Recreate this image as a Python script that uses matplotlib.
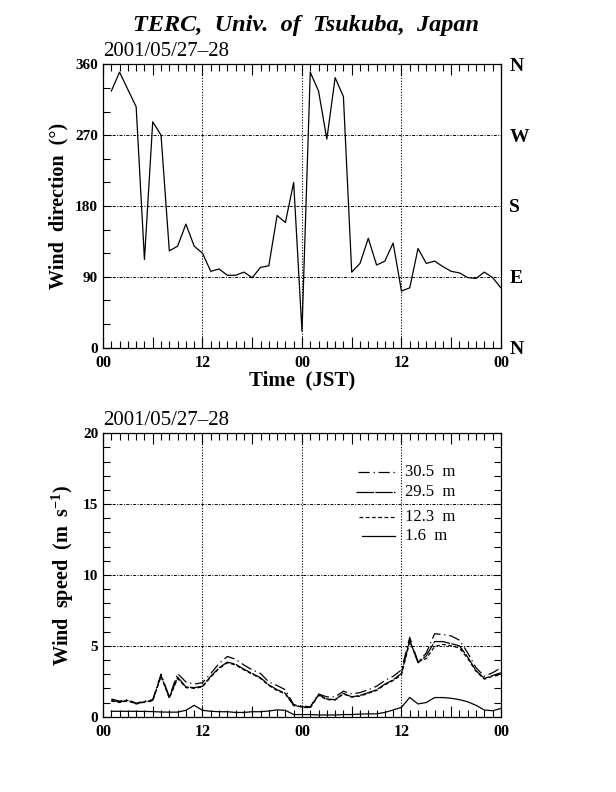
import numpy as np
import matplotlib
matplotlib.use("Agg")
import matplotlib.pyplot as plt
from matplotlib.ticker import MultipleLocator, FixedLocator

plt.rcParams['font.family'] = ['Liberation Serif', 'DejaVu Serif']
plt.rcParams['mathtext.fontset'] = 'custom'
plt.rcParams['mathtext.rm'] = 'Liberation Serif'
plt.rcParams['mathtext.bf'] = 'Liberation Serif:bold'

# ==============================
# DATA (hourly, JST, 2001/05/27-28)
# ==============================
hours = np.arange(1, 49)

wind_dir = [326, 350, 328, 306, 112, 287, 270, 123, 129, 157, 129, 120,
            97, 100, 92, 92, 96, 89, 102, 104, 168, 159, 210, 21,
            350, 326, 265, 343, 319, 96, 107, 139, 105, 110, 133, 72,
            76, 126, 107, 110, 103, 97, 95, 89, 88, 96, 89, 76]

ws_305 = [1.25, 1.1, 1.2, 0.95, 1.1, 1.2, 3.0, 1.4, 3.05, 2.45, 2.3, 2.4,
          3.05, 3.75, 4.25, 4.05, 3.65, 3.3, 3.05, 2.45, 2.2, 1.9, 0.85, 0.75,
          0.7, 1.6, 1.4, 1.4, 1.8, 1.6, 1.7, 1.9, 2.15, 2.55, 2.85, 3.3,
          5.6, 3.85, 4.5, 5.85, 5.8, 5.7, 5.4, 4.5, 3.45, 2.85, 3.1, 3.45]

ws_295 = [1.15, 1.05, 1.15, 0.92, 1.05, 1.15, 2.9, 1.35, 2.8, 2.1, 2.05, 2.15,
          2.85, 3.45, 3.85, 3.7, 3.35, 3.05, 2.75, 2.25, 1.9, 1.65, 0.8, 0.7,
          0.65, 1.55, 1.25, 1.2, 1.65, 1.4, 1.5, 1.7, 1.9, 2.3, 2.6, 3.05,
          5.4, 3.8, 4.3, 5.3, 5.3, 5.15, 5.0, 4.2, 3.25, 2.7, 2.9, 3.1]

ws_123 = [1.1, 1.0, 1.12, 0.9, 1.02, 1.12, 2.85, 1.3, 2.7, 2.05, 2.0, 2.1,
          2.8, 3.4, 3.8, 3.65, 3.3, 3.0, 2.7, 2.2, 1.85, 1.6, 0.78, 0.68,
          0.62, 1.5, 1.2, 1.18, 1.6, 1.38, 1.45, 1.65, 1.85, 2.25, 2.55, 2.95,
          5.3, 3.9, 4.1, 4.95, 5.1, 5.0, 4.85, 4.1, 3.2, 2.65, 2.85, 2.95]

ws_016 = [0.38, 0.38, 0.38, 0.38, 0.37, 0.36, 0.33, 0.32, 0.32, 0.45, 0.8, 0.45,
          0.38, 0.35, 0.35, 0.3, 0.3, 0.35, 0.35, 0.4, 0.48, 0.45, 0.15, 0.15,
          0.15, 0.12, 0.12, 0.12, 0.15, 0.15, 0.18, 0.2, 0.2, 0.3, 0.47, 0.66,
          1.36, 0.9, 1.0, 1.35, 1.35, 1.3, 1.2, 1.05, 0.8, 0.47, 0.42, 0.58]

x_ticks = [0, 12, 24, 36, 48]
x_labels = ["00", "12", "00", "12", "00"]
dir_ticks = [0, 90, 180, 270, 360]
dir_labels = ["0", "90", "180", "270", "360"]
compass = ["N", "E", "S", "W", "N"]
ws_ticks = [0, 5, 10, 15, 20]

heights = ["30.5  m", "29.5  m", "12.3  m", "1.6  m"]
styles = [(0, (9, 3, 1, 3)), (0, (14, 1)), (0, (3, 2)), '-']

# ==============================
# FIGURE
# ==============================
fig = plt.figure(figsize=(6.16, 7.92), dpi=100)
ax1 = fig.add_axes([0.1672, 0.561, 0.646, 0.3578])
ax2 = fig.add_axes([0.1672, 0.0951, 0.646, 0.3578])

grid_h = dict(color='black', lw=0.7, ls=(0, (1, 1.5, 3, 1.5)))
grid_v = dict(color='black', lw=0.8, ls=(0, (1, 1.5)))


def style_axis(ax, ymax, ymajor, yminor):
    ax.set_xlim(0, 48)
    ax.set_ylim(0, ymax)
    ax.xaxis.set_major_locator(MultipleLocator(6))
    ax.xaxis.set_minor_locator(MultipleLocator(1))
    ax.yaxis.set_major_locator(MultipleLocator(ymajor))
    ax.yaxis.set_minor_locator(MultipleLocator(yminor))
    ax.tick_params(which='both', direction='in', top=True, right=True, width=0.8)
    ax.tick_params(which='major', length=8)
    ax.tick_params(which='minor', length=5)
    ax.tick_params(axis='y', which='major', length=6)
    ax.tick_params(axis='y', which='minor', length=5)
    ax.tick_params(axis='x', pad=5)
    ax.set_xticks(list(range(0, 49, 6)))
    ax.set_xticklabels([x_labels[x_ticks.index(t)] if t in x_ticks else "" for t in range(0, 49, 6)],
                       fontweight='bold', fontsize=11.5)
    for s in ax.spines.values():
        s.set_linewidth(0.9)
    for t in x_ticks[1:-1]:
        ax.axvline(t, **grid_v, zorder=1)
    for v in range(ymajor, ymax, ymajor):
        ax.axhline(v, **grid_h, zorder=1)


# ---- wind direction ----
style_axis(ax1, 360, 90, 30)
ax1.plot(hours, wind_dir, color='black', lw=0.9, zorder=3)
ax1.set_yticks(dir_ticks)
ax1.set_yticklabels(dir_labels, fontweight='bold', fontsize=11)
ax1.set_xlabel("Time  (JST)", fontweight='bold', fontsize=15, labelpad=0)
ax1.set_ylabel("Wind  direction  (\u00b0)", fontweight='bold', fontsize=14.5, labelpad=5)
ax1.text(0, 1.012, "2001/05/27\u201328", transform=ax1.transAxes, fontsize=15,
         ha='left', va='bottom')

axr = ax1.twinx()
axr.set_ylim(0, 360)
axr.yaxis.set_major_locator(FixedLocator(dir_ticks))
axr.set_yticklabels(compass, fontweight='bold', fontsize=14)
axr.tick_params(axis='y', length=0, pad=6)
axr.yaxis.set_minor_locator(FixedLocator([]))
for s in axr.spines.values():
    s.set_visible(False)

fig.text(0.497, 0.968, "TERC,  Univ.  of  Tsukuba,  Japan", fontsize=17.5,
         fontweight='bold', fontstyle='italic', ha='center', va='center')

# ---- wind speed ----
style_axis(ax2, 20, 5, 1)
series = [ws_305, ws_295, ws_123, ws_016]
for vals, ls in zip(series, styles):
    ax2.plot(hours, vals, color='black', lw=0.9, ls=ls, zorder=3)
ax2.set_yticks(ws_ticks)
ax2.set_yticklabels([str(v) for v in ws_ticks], fontweight='bold', fontsize=11)
ax2.set_ylabel("Wind  speed  (m  s$^{\\mathbf{-1}}$)", fontweight='bold', fontsize=14.5, labelpad=5)
ax2.text(0, 1.012, "2001/05/27\u201328", transform=ax2.transAxes, fontsize=15,
         ha='left', va='bottom')

# legend drawn inside the panel
leg_y = [0.863, 0.793, 0.705, 0.638]
leg_x0 = [0.64, 0.637, 0.643, 0.65]
for lab, ls, y, x0 in zip(heights, styles, leg_y, leg_x0):
    ax2.plot([x0, 0.734], [y, y], transform=ax2.transAxes, color='black', lw=0.9, ls=ls)
    ax2.text(0.759, y, lab, transform=ax2.transAxes, fontsize=12, va='center', ha='left')

fig.savefig("out.png", dpi=100)
